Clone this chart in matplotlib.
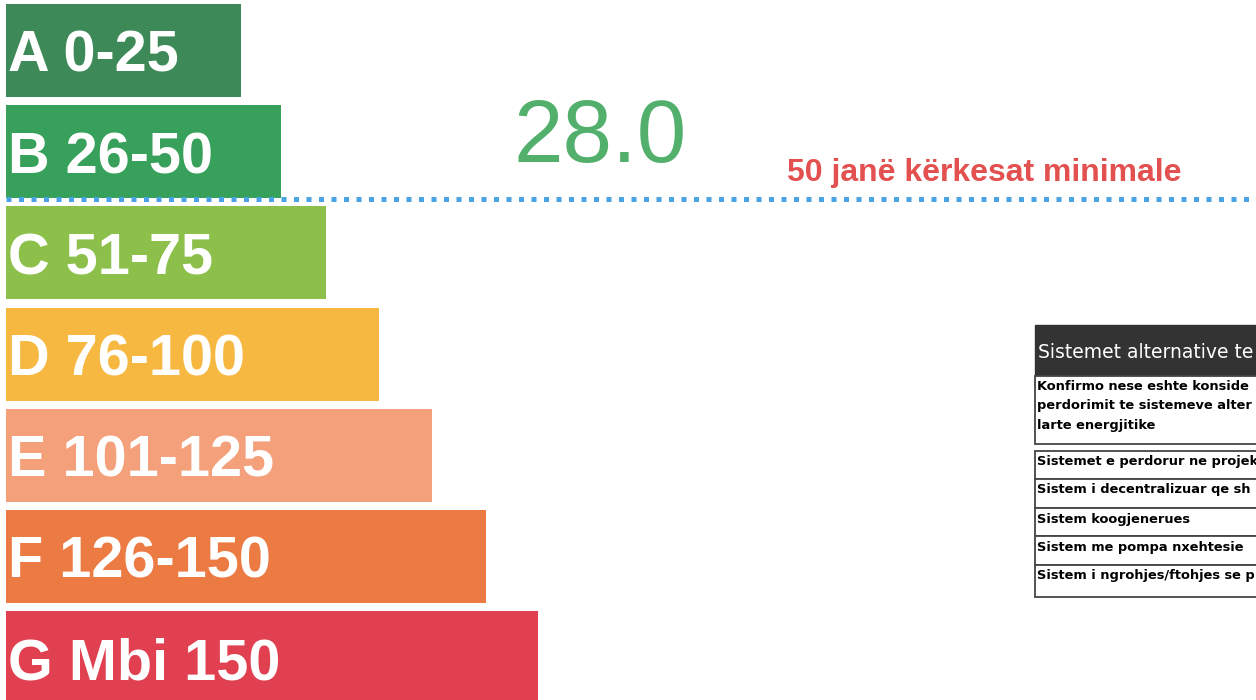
import matplotlib.pyplot as plt
from matplotlib.patches import Rectangle

# energy classes and their bars
classes = ["A", "B", "C", "D", "E", "F", "G"]
ranges = ["0-25", "26-50", "51-75", "76-100", "101-125", "126-150", "Mbi 150"]
bar_lengths = [235, 275, 320, 373, 426, 480, 532]
bar_colors = ["#3d8a58", "#37a05a", "#8cc04b", "#f6b841", "#f4a07a", "#ec7b43", "#e0404f"]

score = 28.0
min_requirement = 50
note = f"{min_requirement} janë kërkesat minimale"

# table text as far as the scan shows it (page is cut at the right edge)
table_header = "Sistemet alternative te"
table_intro = [
    "Konfirmo nese eshte konside",
    "perdorimit te sistemeve alter",
    "larte energjitike",
]
table_rows = [
    "Sistemet e perdorur ne projek",
    "Sistem i decentralizuar qe sh",
    "Sistem koogjenerues",
    "Sistem me pompa nxehtesie",
    "Sistem i ngrohjes/ftohjes se p",
]

W, H = 1256, 700
fig = plt.figure(figsize=(12.56, 7.0), dpi=100)
ax = fig.add_axes([0, 0, 1, 1])
ax.set_xlim(0, W)
ax.set_ylim(H, 0)
ax.axis("off")

pitch = 101.2
ys = [50.5 + i * pitch for i in range(len(classes))]
ax.barh(ys, bar_lengths, height=93, left=6, color=bar_colors)
for y, c, r in zip(ys, classes, ranges):
    ax.text(8, y + 21.5, f"{c} {r}", color="white", fontsize=41.5, fontweight="bold",
            family="Liberation Sans", va="baseline", ha="left")

# minimum requirement line between B and C
ax.plot([6, W], [199, 199], color="#4aa3e2", lw=3.6, linestyle=(0, (1, 1.5)), zorder=5)

ax.text(513, 162, f"{score:.1f}", color="#52b06c", fontsize=64,
        family="Liberation Sans", va="baseline", ha="left")
ax.text(787, 181, note, color="#e2504f", fontsize=23, fontweight="bold",
        family="Liberation Sans", va="baseline", ha="left")

# table of alternative systems (cut at right edge)
tx = 1035
ax.add_patch(Rectangle((tx, 325), 300, 51, facecolor="#333333", edgecolor="#333333"))
ax.text(tx + 3, 352, table_header, color="white", fontsize=13.5, family="DejaVu Sans",
        va="center", ha="left", clip_on=True)

ax.add_patch(Rectangle((tx, 376), 300, 68, facecolor="white", edgecolor="#444444", lw=1.3))
for i, line in enumerate(table_intro):
    ax.text(tx + 2, 386 + i * 19.5, line, color="black", fontsize=9.4, fontweight="bold",
            family="DejaVu Sans", va="center", ha="left", clip_on=True)

edges = [451, 479, 508, 536, 565, 597]
for i, row in enumerate(table_rows):
    top, bot = edges[i], edges[i + 1]
    ax.add_patch(Rectangle((tx, top), 300, bot - top, facecolor="white",
                           edgecolor="#444444", lw=1.3))
    ax.text(tx + 2, top + 11, row, color="black", fontsize=9.4, fontweight="bold",
            family="DejaVu Sans", va="center", ha="left", clip_on=True)

fig.savefig("out.png", dpi=100, facecolor="white")
